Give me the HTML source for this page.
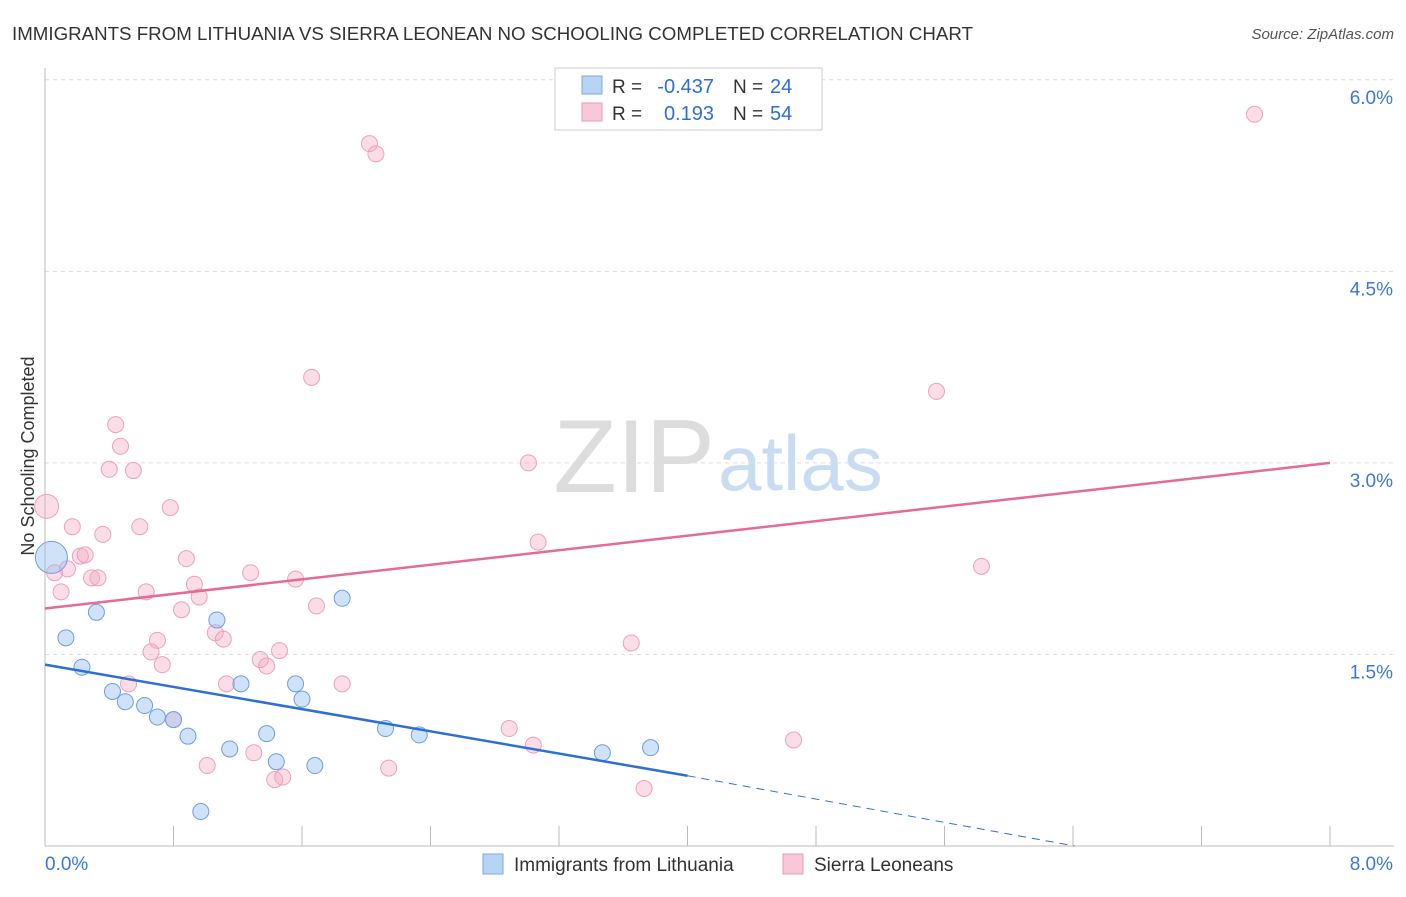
<!DOCTYPE html>
<html><head><meta charset="utf-8"><style>
body{margin:0;background:#fff;font-family:"Liberation Sans",sans-serif;}
svg text{font-family:"Liberation Sans",sans-serif;}
</style></head><body>
<svg id="chart" width="1406" height="892">
<text x="12" y="40" font-size="18" fill="#333" textLength="961" lengthAdjust="spacingAndGlyphs">IMMIGRANTS FROM LITHUANIA VS SIERRA LEONEAN NO SCHOOLING COMPLETED CORRELATION CHART</text>
<text x="1394" y="39" font-size="15" fill="#555" font-style="italic" text-anchor="end">Source: ZipAtlas.com</text>
<text x="34" y="456" font-size="18" fill="#333" transform="rotate(-90 34 456)" text-anchor="middle">No Schooling Completed</text>
<text x="715" y="492" font-size="104" fill="#ddd" text-anchor="end" font-family="Liberation Serif">ZIP</text>
<text x="718" y="490" font-size="78" fill="#c8dcf2">atlas</text>
<g id="grid"></g><g id="axes"></g><g id="pts"></g><g id="lines"></g>
<g>
<rect x="555" y="68" width="267" height="62" fill="#fff" stroke="#ccc"/>
<rect x="582" y="76" width="20" height="18" fill="#b8d4f5" stroke="#7aa8e0"/>
<rect x="582" y="103" width="20" height="18" fill="#f8c8d8" stroke="#e89ab5"/>
<text x="612" y="93" font-size="19" fill="#333">R =</text>
<text x="714" y="93" font-size="20" fill="#2d6fd6" text-anchor="end">-0.437</text>
<text x="733" y="93" font-size="19" fill="#333">N =</text>
<text x="770" y="93" font-size="20" fill="#2d6fd6">24</text>
<text x="612" y="120" font-size="19" fill="#333">R =</text>
<text x="714" y="120" font-size="20" fill="#2d6fd6" text-anchor="end">0.193</text>
<text x="733" y="120" font-size="19" fill="#333">N =</text>
<text x="770" y="120" font-size="20" fill="#2d6fd6">54</text>
</g>
<g>
<rect x="483" y="854" width="20" height="20" fill="#b8d4f5" stroke="#7aa8e0"/>
<text x="514" y="871" font-size="19" fill="#333">Immigrants from Lithuania</text>
<rect x="783" y="854" width="20" height="20" fill="#f8c8d8" stroke="#e89ab5"/>
<text x="814" y="871" font-size="19" fill="#333">Sierra Leoneans</text>
</g>
</svg>
<script>
const yTicks=[1.5,3.0,4.5,6.0];
const blueX=[0.04,0.13,0.32,0.23,0.42,0.50,0.62,0.70,0.80,0.89,0.97,1.07,1.15,1.22,1.38,1.44,1.56,1.60,1.68,1.85,2.12,2.33,3.47,3.77];
const blueY=[2.26,1.63,1.83,1.40,1.21,1.13,1.10,1.01,0.99,0.86,0.27,1.77,0.76,1.27,0.88,0.66,1.27,1.15,0.63,1.94,0.92,0.87,0.73,0.77];
const pinkX=[0.01,0.06,0.10,0.14,0.17,0.22,0.25,0.29,0.33,0.36,0.40,0.44,0.47,0.52,0.55,0.59,0.63,0.66,0.70,0.73,0.78,0.80,0.85,0.88,0.93,0.96,1.01,1.06,1.11,1.13,1.28,1.30,1.34,1.38,1.43,1.46,1.48,1.56,1.66,1.69,1.85,2.02,2.06,2.14,2.89,3.01,3.04,3.07,3.65,3.73,4.66,5.55,5.83,7.53];
const pinkY=[2.66,2.14,1.99,2.17,2.50,2.27,2.28,2.10,2.10,2.44,2.95,3.30,3.13,1.27,2.94,2.50,1.99,1.52,1.61,1.42,2.65,0.99,1.85,2.25,2.05,1.95,0.63,1.67,1.62,1.27,2.14,0.73,1.46,1.41,0.52,1.53,0.54,2.09,3.67,1.88,1.27,5.50,5.42,0.61,0.92,3.00,0.79,2.38,1.59,0.45,0.83,3.56,2.19,5.73];
const blueStart=1.42, blueLine=[4.0,0.55], blueDash=[6.41,0.0];
const pinkLine=[1.86,3.0];
const X=v=>45+v/8*1285, Y=v=>846-v*127.7;
const ns='http://www.w3.org/2000/svg';
function mk(p,t,a){const e=document.createElementNS(ns,t);for(const k in a)e.setAttribute(k,a[k]);p.appendChild(e);return e;}
const g=document.getElementById('grid'),ax=document.getElementById('axes'),pts=document.getElementById('pts'),ln=document.getElementById('lines');
yTicks.forEach(t=>{const l=mk(g,'line',{x1:45,x2:1394,y1:Y(t),y2:Y(t),stroke:'#ddd','stroke-dasharray':'4,4'});


const tx=mk(g,'text',{x:1393,y:Y(t)+24,'font-size':19,fill:'#3b78d8','text-anchor':'end'});tx.textContent=t.toFixed(1)+'%';

});
mk(ax,'line',{x1:45,x2:45,y1:68,y2:846,stroke:'#bbb'});
mk(ax,'line',{x1:45,x2:1394,y1:846,y2:846,stroke:'#bbb'});
for(let i=0;i<=10;i++){const x=45+i*128.5;mk(ax,'line',{x1:x,x2:x,y1:826,y2:846,stroke:'#bbb'});}
const t0=mk(ax,'text',{x:45,y:870,'font-size':19,fill:'#3b78d8'});t0.textContent='0.0%';


const t8=mk(ax,'text',{x:1393,y:870,'font-size':19,fill:'#3b78d8','text-anchor':'end'});t8.textContent='8.0%';


pinkX.forEach((x,i)=>{const c=mk(pts,'circle',{cx:X(x),cy:Y(pinkY[i]),r:i==0?12:8,fill:'rgba(244,170,195,0.4)',stroke:'#eda0bb','stroke-width':1});

});
blueX.forEach((x,i)=>{const c=mk(pts,'circle',{cx:X(x),cy:Y(blueY[i]),r:i==0?16:8,fill:'rgba(150,190,240,0.45)',stroke:'#6b9fe0','stroke-width':1});

});
const bl=mk(ln,'line',{x1:X(0),y1:Y(blueStart),x2:X(blueLine[0]),y2:Y(blueLine[1]),stroke:'#2d6fd6','stroke-width':2.5});


const bd=mk(ln,'line',{x1:X(blueLine[0]),y1:Y(blueLine[1]),x2:X(blueDash[0]),y2:Y(blueDash[1]),stroke:'#2d6fd6','stroke-width':1,'stroke-dasharray':'8,6'});


const pl=mk(ln,'line',{x1:X(0),y1:Y(pinkLine[0]),x2:X(8),y2:Y(pinkLine[1]),stroke:'#e46b98','stroke-width':2.5});


</script>
</body></html>
